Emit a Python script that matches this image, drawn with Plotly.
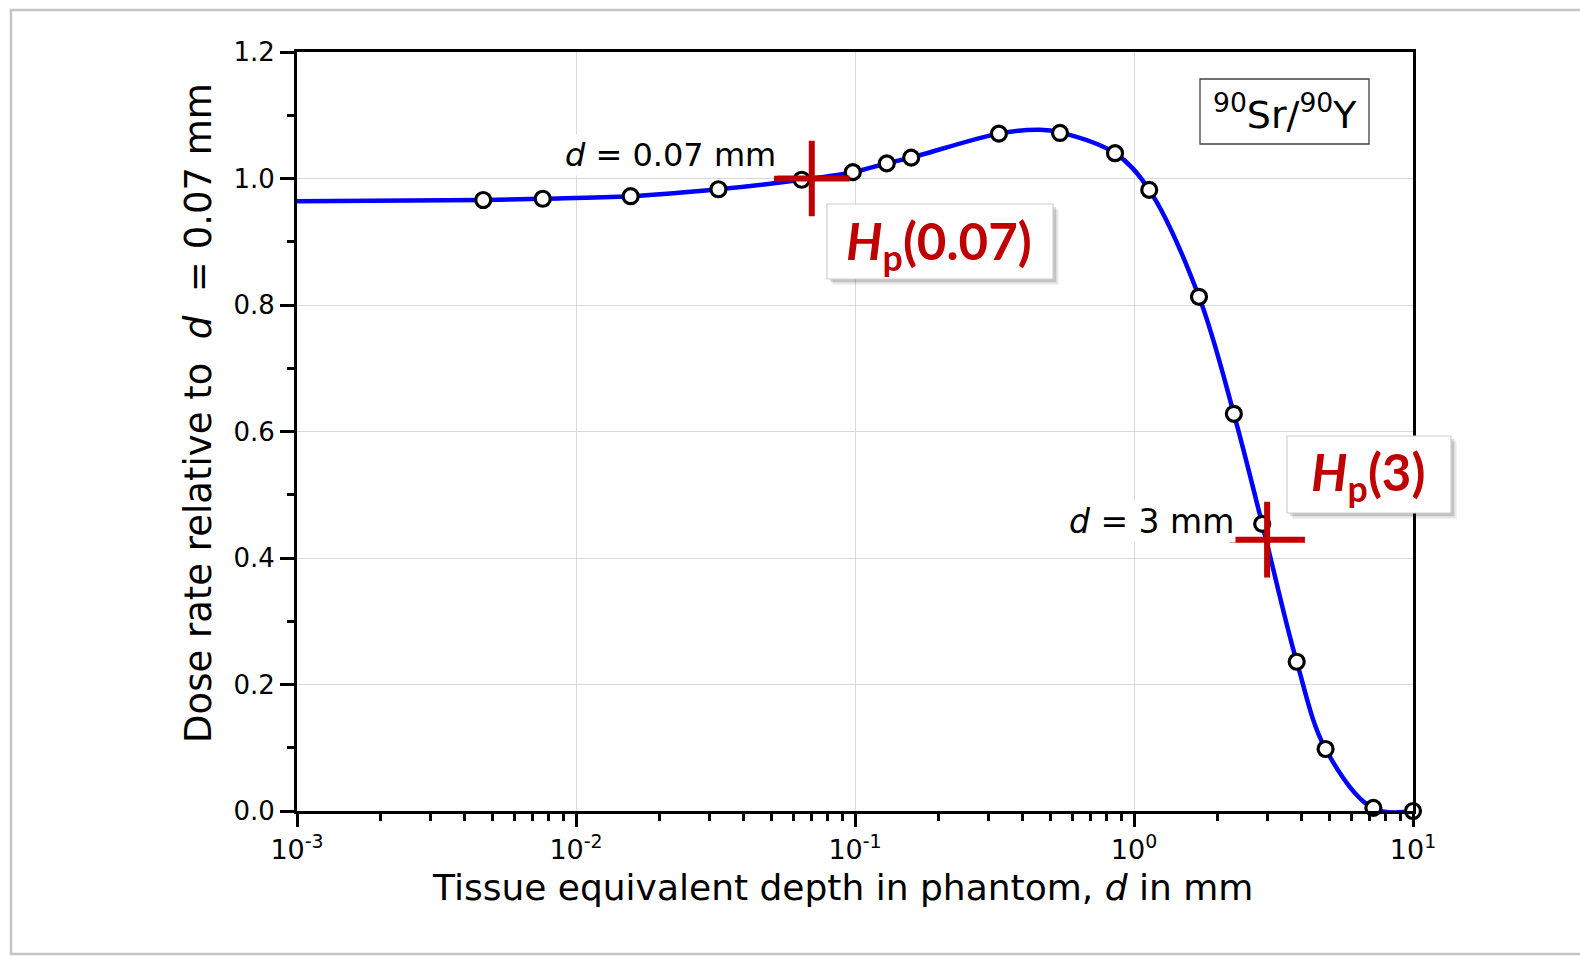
import plotly.graph_objects as go

# Measured depth-dose points for a 90Sr/90Y beta source (relative to d = 0.07 mm)
depth_mm = [0.00465, 0.0076, 0.0157, 0.0324, 0.0644, 0.0982, 0.130, 0.159,
            0.328, 0.543, 0.855, 1.134, 1.71, 2.28, 2.88, 3.83, 4.86, 7.21, 10.0]
rel_dose = [0.966, 0.968, 0.972, 0.983, 0.998, 1.010, 1.024, 1.033,
            1.071, 1.072, 1.040, 0.982, 0.813, 0.628, 0.454, 0.236, 0.098, 0.005, 0.0]

# Nodes of the smooth fitted curve
curve_depth = [0.00095, 0.00465, 0.0076, 0.0157, 0.0324, 0.0644, 0.0982, 0.130, 0.159,
               0.328, 0.46, 0.543, 0.855, 1.134, 1.71, 2.28, 2.88, 3.83, 4.86, 7.21, 10.0]
curve_dose = [0.964, 0.966, 0.968, 0.972, 0.983, 0.998, 1.010, 1.024, 1.033,
              1.071, 1.077, 1.073, 1.040, 0.982, 0.813, 0.628, 0.454, 0.236, 0.098, 0.004, 0.0]

# Reference depths of the personal dose equivalent Hp(d)
hp_depth = [0.07, 3.0]
hp_dose = [1.0, 0.429]

x_tickvals = [1e-3, 1e-2, 1e-1, 1, 10]
x_ticktext = ["10<sup>-3</sup>", "10<sup>-2</sup>", "10<sup>-1</sup>",
              "10<sup>0</sup>", "10<sup>1</sup>"]
x_minor = [m * 10 ** e for e in range(-3, 1) for m in range(2, 10)]

W, H = 1580, 956
L, R, T, B = 297, 167, 52, 145
FONT = "DejaVu Sans"
RED = "#C00000"


def px(x):
    return (x - L) / (W - L - R)


def py(y):
    return (H - B - y) / (H - T - B)


fig = go.Figure()

fig.add_trace(go.Scatter(
    x=curve_depth, y=curve_dose, mode="lines",
    line=dict(color="#0000FF", width=4.5, shape="spline", smoothing=1.0),
    hoverinfo="skip", showlegend=False))

fig.add_trace(go.Scatter(
    x=depth_mm, y=rel_dose, mode="markers",
    marker=dict(symbol="circle", size=15, color="white",
                line=dict(color="black", width=3.2)),
    cliponaxis=False, showlegend=False))

fig.add_trace(go.Scatter(
    x=hp_depth, y=hp_dose, mode="markers",
    marker=dict(symbol="cross-thin", size=54, color=RED,
                line=dict(color=RED, width=6)),
    cliponaxis=False, showlegend=False))

shapes = []
# outer frame
shapes.append(dict(type="rect", xref="paper", yref="paper",
                   x0=px(11), x1=px(1583), y0=py(954), y1=py(10),
                   line=dict(color="#c4c4c4", width=2.5), layer="below"))
# source label box
shapes.append(dict(type="rect", xref="paper", yref="paper",
                   x0=px(1200), x1=px(1369), y0=py(144), y1=py(79),
                   line=dict(color="#404040", width=1.3), fillcolor="white",
                   layer="above"))


def callout_box(x0, x1, y0, y1):
    # soft drop shadow followed by the white box
    for off, alpha in [(6, 0.05), (4.5, 0.08), (3, 0.12)]:
        shapes.append(dict(type="rect", xref="paper", yref="paper",
                           x0=px(x0 + off), x1=px(x1 + off),
                           y0=py(y1 + off), y1=py(y0 + off),
                           line=dict(width=0),
                           fillcolor=f"rgba(0,0,0,{alpha})", layer="above"))
    shapes.append(dict(type="rect", xref="paper", yref="paper",
                       x0=px(x0), x1=px(x1), y0=py(y1), y1=py(y0),
                       line=dict(color="#cfcfcf", width=1.2), fillcolor="white",
                       layer="above"))


callout_box(827, 1053, 204, 279)
callout_box(1287, 1451, 436, 513)

annotations = [
    dict(text="<sup>90</sup>Sr/<sup>90</sup>Y", x=px(1284.5), y=py(112),
         font=dict(family=FONT, size=38, color="black")),
    dict(text="<b><i>H</i><sub>p</sub>(0.07)</b>", x=px(939), y=py(244),
         font=dict(family="Lato", size=51, color=RED)),
    dict(text="<b><i>H</i><sub>p</sub>(3)</b>", x=px(1368), y=py(476),
         font=dict(family="Lato", size=51, color=RED)),
    dict(text="<i>d</i> = 0.07 mm", x=px(670), y=py(155), bgcolor="white",
         font=dict(family=FONT, size=32, color="black")),
    dict(text="<i>d</i> = 3 mm", x=px(1151), y=py(521), bgcolor="white",
         font=dict(family=FONT, size=33, color="black")),
    dict(text="Tissue equivalent depth in phantom, <i>d</i> in mm",
         x=px(842), y=py(887),
         font=dict(family=FONT, size=36, color="black")),
    dict(text="Dose rate relative to\u00a0 <i>d</i>\u00a0 = 0.07 mm",
         x=px(198), y=py(413), textangle=-90,
         font=dict(family=FONT, size=37, color="black")),
]
for a in annotations:
    a.update(xref="paper", yref="paper", showarrow=False,
             xanchor="center", yanchor="middle")

fig.update_layout(
    width=W, height=H,
    margin=dict(l=L, r=R, t=T, b=B),
    paper_bgcolor="white", plot_bgcolor="white",
    shapes=shapes, annotations=annotations,
    showlegend=False,
)

fig.update_xaxes(
    type="log", range=[-3, 1],
    tickvals=x_tickvals, ticktext=x_ticktext,
    ticks="outside", ticklen=13, tickwidth=2.5, tickcolor="black",
    tickfont=dict(family=FONT, size=27, color="black"),
    showline=True, linecolor="black", linewidth=3, mirror=True,
    showgrid=True, gridcolor="#d9d9d9", gridwidth=1,
    minor=dict(tickvals=x_minor, ticks="outside", ticklen=7, tickwidth=2.5,
               tickcolor="black", showgrid=False),
    zeroline=False,
)

fig.update_yaxes(
    range=[0, 1.2], dtick=0.2, tick0=0, tickformat=".1f",
    ticks="outside", ticklen=14, tickwidth=2.5, tickcolor="black",
    ticklabelstandoff=0,
    tickfont=dict(family=FONT, size=26, color="black"),
    showline=True, linecolor="black", linewidth=3, mirror=True,
    showgrid=True, gridcolor="#d9d9d9", gridwidth=1,
    minor=dict(dtick=0.1, ticks="outside", ticklen=7, tickwidth=2.5,
               tickcolor="black", showgrid=False),
    zeroline=False,
)

fig.write_html("out.html")
